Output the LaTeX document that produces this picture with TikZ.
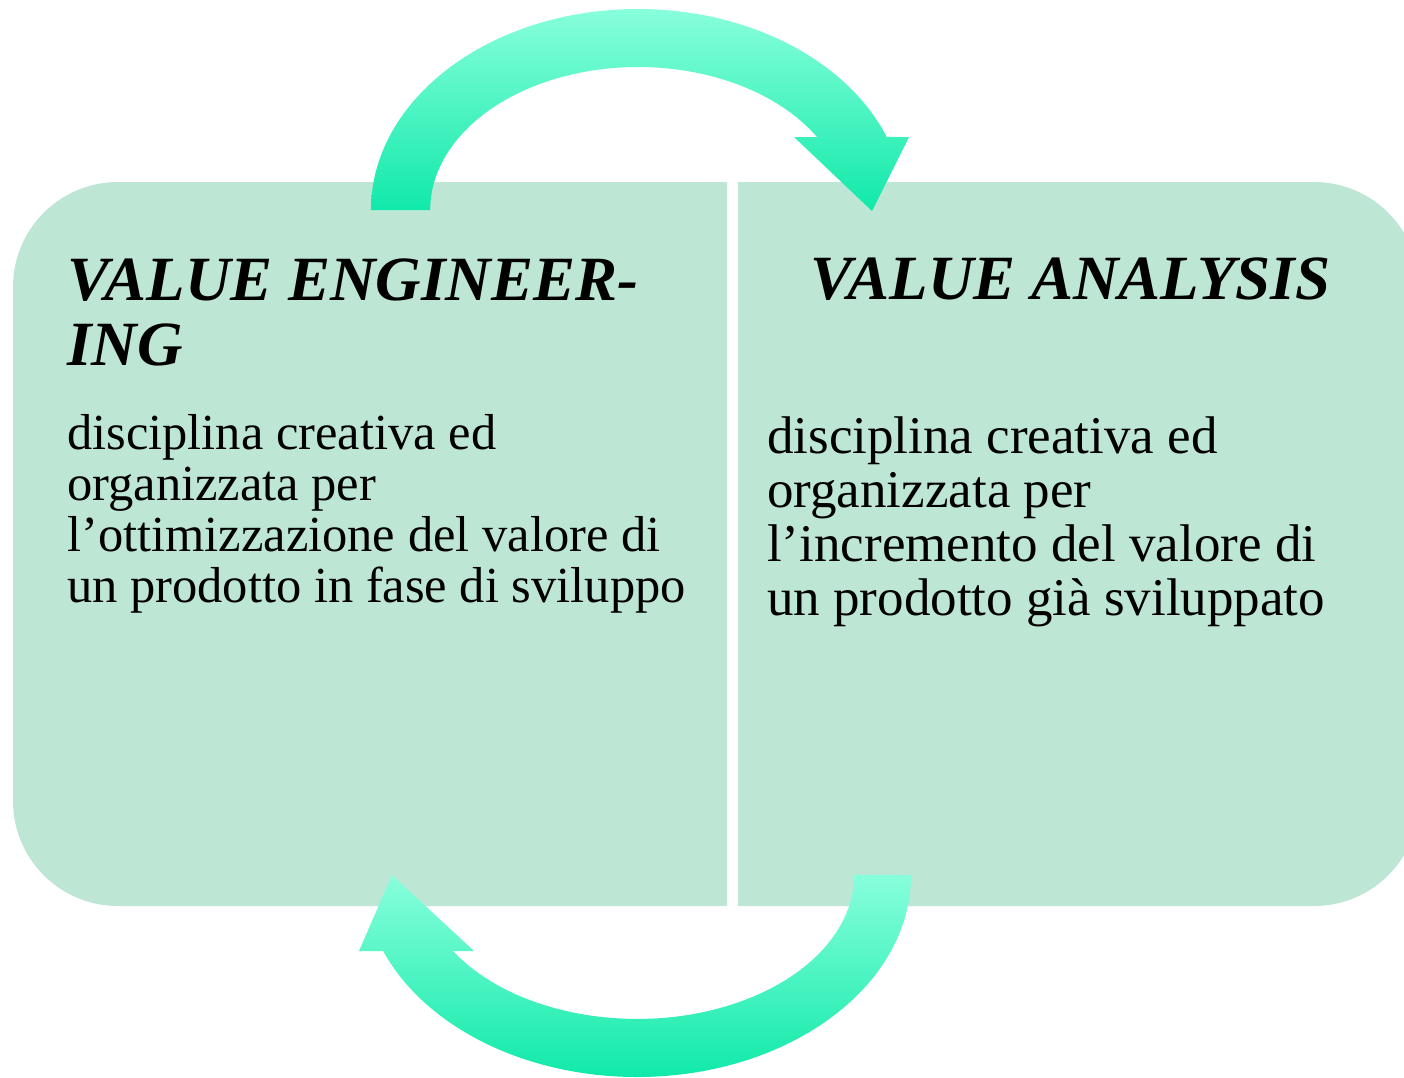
\documentclass[tikz,border=0pt]{standalone}
\usepackage{fontspec}
\setmainfont{Liberation Serif}
\definecolor{boxfill}{HTML}{BDE6D5}
\definecolor{arrlight}{HTML}{88FFDC}
\definecolor{arrdark}{HTML}{10E9A9}
\begin{document}
\begin{tikzpicture}[x=1pt,y=-1pt,
  panel/.style={fill=boxfill,draw=none},
  cycarrow/.style={top color=arrlight,bottom color=arrdark,draw=none},
  headtxt/.style={anchor=base west,inner sep=0pt,font=\fontsize{63}{65}\selectfont\bfseries\itshape},
  bodytxt/.style={anchor=base west,inner sep=0pt}]
\useasboundingbox (0,0) rectangle (1404,1077);
% panels
\path[panel] (727,182) -- (118,182) arc[start angle=270,end angle=180,radius=105]
  -- (13,801) arc[start angle=180,end angle=90,radius=105] -- (727,906) -- cycle;
\path[panel] (738,182) -- (1314,182) arc[start angle=270,end angle=360,radius=105]
  -- (1419,801) arc[start angle=0,end angle=90,radius=105] -- (738,906) -- cycle;
% top curved arrow
\path[cycarrow] (371,210)
  arc[start angle=180,end angle=338.7,x radius=267,y radius=201]
  -- (909,137) -- (872,211) -- (794,137) -- (817,137)
  arc[start angle=329.3,end angle=180,x radius=208,y radius=143] -- cycle;
% bottom curved arrow
\path[cycarrow] (911,875)
  arc[start angle=0,end angle=157.9,x radius=274,y radius=202]
  -- (359,951) -- (392,875) -- (474,951) -- (453,951)
  arc[start angle=148.1,end angle=0,x radius=217,y radius=144] -- cycle;
% texts
\node[headtxt] (h1) at (67,300) {\parbox[t]{700pt}{\raggedright VALUE ENGINEER-\\ING}};
\node[headtxt] (h2) at (810,299) {VALUE ANALYSIS};
\node[bodytxt] (b1) at (67,449) {\parbox[t]{700pt}{\raggedright\fontsize{50.5}{51.3}\selectfont
  disciplina creativa ed\\organizzata per\\l’ottimizzazione del valore di\\un prodotto in fase di sviluppo}};
\node[bodytxt] (b2) at (767,453) {\parbox[t]{700pt}{\raggedright\fontsize{53}{54}\selectfont
  disciplina creativa ed\\organizzata per\\l’incremento del valore di\\un prodotto già sviluppato}};
\end{tikzpicture}
\end{document}
